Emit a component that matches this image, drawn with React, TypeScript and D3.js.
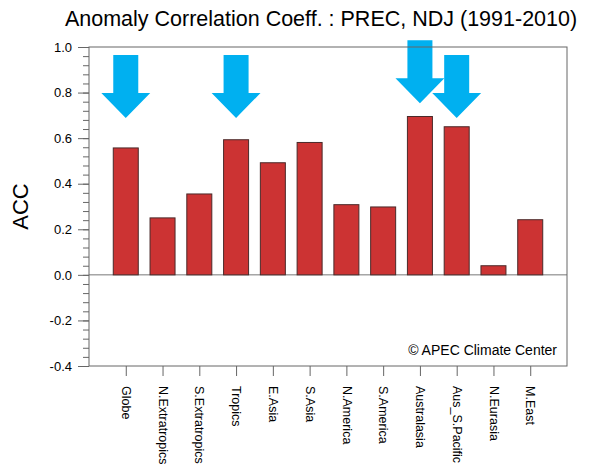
import React, { useRef, useEffect } from "react";
import * as d3 from "d3";

const regions = [
  "Globe",
  "N.Extratropics",
  "S.Extratropics",
  "Tropics",
  "E.Asia",
  "S.Asia",
  "N.America",
  "S.America",
  "Australasia",
  "Aus_S.Pacific",
  "N.Eurasia",
  "M.East",
];
const acc = [0.557, 0.25, 0.355, 0.593, 0.492, 0.581, 0.308, 0.298, 0.695, 0.65, 0.04, 0.242];
const yTicks = [1.0, 0.8, 0.6, 0.4, 0.2, 0.0, -0.2, -0.4];
// arrows marking the highlighted regions, top of the arrow in ACC units
const arrowRegions = ["Globe", "Tropics", "Australasia", "Aus_S.Pacific"];
const arrowTops = [0.965, 0.965, 1.03, 0.965];

const App = () => {
  const ref = useRef<SVGSVGElement>(null);

  useEffect(() => {
    const svg = d3.select(ref.current);
    svg.selectAll("*").remove();
    const margin = { top: 47, right: 23, bottom: 102, left: 89 };
    const width = 590;
    const height = 468;
    const x0 = margin.left;
    const x1 = width - margin.right;
    const y0 = margin.top;
    const y1 = height - margin.bottom;

    const xScale = d3
      .scaleLinear()
      .domain([0, regions.length + 1])
      .range([x0, x1]);
    const yScale = d3.scaleLinear().domain([-0.4, 1.0]).range([y1, y0]);
    const step = xScale(1) - xScale(0);
    const barW = step * 0.68;

    // title
    svg
      .append("text")
      .attr("x", 321)
      .attr("y", 26)
      .attr("text-anchor", "middle")
      .style("font-family", "Liberation Sans, Arial, sans-serif")
      .style("font-size", "21.5px")
      .text("Anomaly Correlation Coeff. : PREC, NDJ (1991-2010)");

    // y title
    svg
      .append("text")
      .attr("transform", `translate(28,${(y0 + y1) / 2}) rotate(-90)`)
      .attr("text-anchor", "middle")
      .style("font-family", "Liberation Sans, Arial, sans-serif")
      .style("font-size", "22px")
      .text("ACC");

    // zero line
    svg
      .append("line")
      .attr("x1", x0)
      .attr("x2", x1)
      .attr("y1", yScale(0))
      .attr("y2", yScale(0))
      .attr("stroke", "#777")
      .attr("stroke-width", 1);

    // bars
    svg
      .selectAll(".bar")
      .data(acc)
      .join("rect")
      .attr("class", "bar")
      .attr("x", (d, i) => xScale(i + 1) - barW / 2)
      .attr("y", (d) => yScale(Math.max(d, 0)))
      .attr("width", barW)
      .attr("height", (d) => Math.abs(yScale(d) - yScale(0)))
      .attr("fill", "#cc3333")
      .attr("stroke", "#4a2a2a")
      .attr("stroke-width", 1);

    // arrows
    const shaftW = barW;
    const headW = step * 1.33;
    const arrowLen = 63;
    const headH = 25;
    arrowRegions.forEach((r, k) => {
      const cx = xScale(regions.indexOf(r) + 1);
      const top = yScale(arrowTops[k]);
      const pts = [
        [cx - shaftW / 2, top],
        [cx + shaftW / 2, top],
        [cx + shaftW / 2, top + arrowLen - headH],
        [cx + headW / 2, top + arrowLen - headH],
        [cx, top + arrowLen],
        [cx - headW / 2, top + arrowLen - headH],
        [cx - shaftW / 2, top + arrowLen - headH],
      ];
      svg
        .append("polygon")
        .attr("points", pts.map((p) => p.join(",")).join(" "))
        .attr("fill", "#00b0f0");
    });

    // frame
    svg
      .append("rect")
      .attr("x", x0)
      .attr("y", y0)
      .attr("width", x1 - x0)
      .attr("height", y1 - y0)
      .attr("fill", "none")
      .attr("stroke", "#666")
      .attr("stroke-width", 1);

    // y axis
    const minor = d3.range(-0.4, 1.0001, 0.04).map((v) => +v.toFixed(2));
    svg
      .append("g")
      .attr("transform", `translate(${x0},0)`)
      .call(
        d3
          .axisLeft(yScale)
          .tickValues(minor)
          .tickSize(6)
          .tickFormat(() => "")
      )
      .call((g) => g.select(".domain").remove())
      .selectAll("line")
      .attr("stroke", "#666");
    const yAxis = svg
      .append("g")
      .attr("transform", `translate(${x0},0)`)
      .call(
        d3
          .axisLeft(yScale)
          .tickValues(yTicks)
          .tickSize(11)
          .tickPadding(6)
          .tickFormat((d) => (+d).toFixed(1))
      );
    yAxis.select(".domain").remove();
    yAxis.selectAll("line").attr("stroke", "#666");
    yAxis
      .selectAll("text")
      .style("font-family", "Liberation Sans, Arial, sans-serif")
      .style("font-size", "13px")
      .attr("fill", "#000");

    // x axis
    const xAxis = svg
      .append("g")
      .attr("transform", `translate(0,${y1})`)
      .call(
        d3
          .axisBottom(xScale)
          .tickValues(d3.range(1, regions.length + 1))
          .tickSize(10)
          .tickFormat((d) => regions[+d - 1])
      );
    xAxis.select(".domain").remove();
    xAxis.selectAll("line").attr("stroke", "#666");
    xAxis
      .selectAll("text")
      .attr("transform", "rotate(90)")
      .attr("x", 20)
      .attr("y", 0)
      .attr("dy", "0.35em")
      .style("text-anchor", "start")
      .style("font-family", "Liberation Sans, Arial, sans-serif")
      .style("font-size", "12.5px")
      .attr("fill", "#000");

    // copyright
    svg
      .append("text")
      .attr("x", 557)
      .attr("y", 355)
      .attr("text-anchor", "end")
      .style("font-family", "Liberation Sans, Arial, sans-serif")
      .style("font-size", "14px")
      .text("\u00a9 APEC Climate Center");
  }, []);

  return (
    <svg
      ref={ref}
      width={590}
      height={468}
      style={{ position: "absolute", left: 0, top: 0, background: "#fff" }}
    />
  );
};

export default App;
